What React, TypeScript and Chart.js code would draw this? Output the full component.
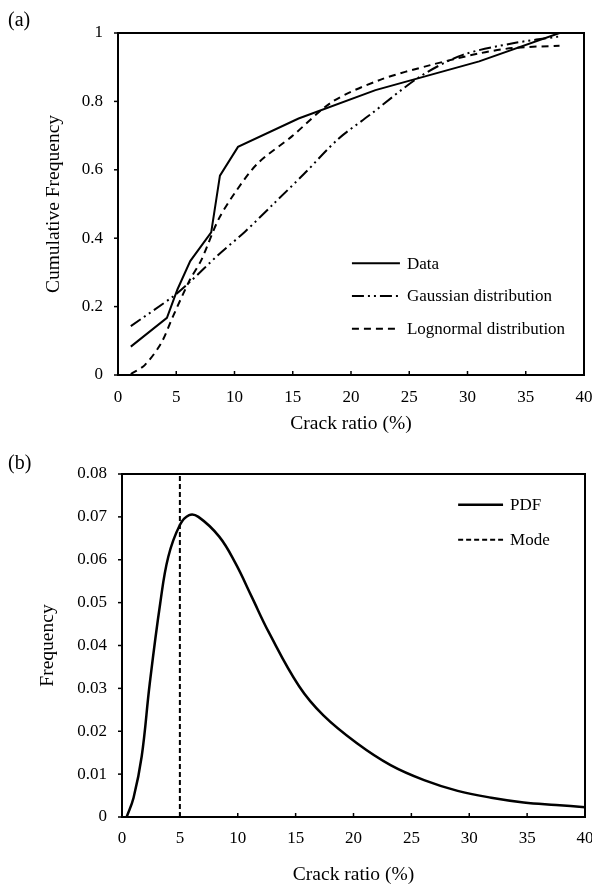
import React, { useEffect, useRef } from "react";
import { Chart, registerables } from "chart.js";
Chart.register(...registerables);

const FONT = "'Liberation Serif', 'Times New Roman', serif";

// ---- Panel (a): cumulative frequency ----
const dataX = [1.1, 4.2, 5.1, 6.2, 8.0, 8.75, 10.3, 15.5, 22.1, 31.0, 37.9];
const dataY = [0.083, 0.167, 0.25, 0.333, 0.417, 0.583, 0.667, 0.75, 0.833, 0.917, 1.0];

const gaussX = [1.1, 4.7, 6.2, 8.6, 10.9, 13.4, 16.0, 18.9, 21.6, 25.9, 29.6, 33.9, 37.9];
const gaussY = [0.143, 0.229, 0.273, 0.351, 0.419, 0.502, 0.589, 0.69, 0.76, 0.872, 0.936, 0.97, 0.99];

const lognX = [1.1, 2.3, 3.7, 4.7, 6.15, 7.15, 8.6, 10.0, 12.0, 14.9, 18.4, 22.5, 26.8, 31.1, 33.9, 37.9];
const lognY = [0.003, 0.029, 0.093, 0.17, 0.277, 0.336, 0.453, 0.531, 0.619, 0.697, 0.799, 0.863, 0.906, 0.941, 0.956, 0.963];

// ---- Panel (b): PDF ----
const pdfX = [0.4, 1.0, 1.7, 2.4, 3.3, 4.0, 5.0, 5.8, 6.6, 8.4, 9.8, 11.2, 12.7, 15.3, 17.4, 20.3, 23.2, 26.1, 29.0, 31.9, 34.7, 37.5, 40];
const pdfY = [0, 0.0045, 0.0141, 0.0312, 0.0498, 0.0607, 0.0681, 0.0704, 0.07, 0.0654, 0.0592, 0.0514, 0.043, 0.0305, 0.0237, 0.0172, 0.0121, 0.0086, 0.0061, 0.0045, 0.0034, 0.0028, 0.0023];

const modeX = [5, 5];
const modeY = [0, 0.08];

const xTicksStep = 5;

const pts = (xs: number[], ys: number[]) => xs.map((x, i) => ({ x, y: ys[i] }));

type LegendItem = { label: string; dash: number[]; width: number };
type LegendCfg = { items: LegendItem[]; x1: number; x2: number; rows: number[] };

function makeFrame(cfg: LegendCfg) {
  return {
    id: "frame",
    afterDatasetsDraw(chart: any) {
      const { ctx, chartArea: a, scales } = chart;
      const w = a.right - a.left;
      const h = a.bottom - a.top;
      ctx.save();
      ctx.strokeStyle = "#000";
      ctx.setLineDash([]);
      ctx.lineWidth = 2;
      ctx.strokeRect(a.left, a.top, w, h);
      ctx.lineWidth = 1.5;
      scales.x.ticks.forEach((t: any) => {
        const px = scales.x.getPixelForValue(t.value);
        ctx.beginPath();
        ctx.moveTo(px, a.bottom);
        ctx.lineTo(px, a.bottom - 4);
        ctx.stroke();
      });
      scales.y.ticks.forEach((t: any) => {
        const py = scales.y.getPixelForValue(t.value);
        ctx.beginPath();
        ctx.moveTo(a.left, py);
        ctx.lineTo(a.left - 4, py);
        ctx.stroke();
      });
      // legend
      const x1 = a.left + cfg.x1 * w;
      const x2 = a.left + cfg.x2 * w;
      ctx.font = `17px ${FONT}`;
      ctx.fillStyle = "#000";
      ctx.textBaseline = "middle";
      ctx.textAlign = "left";
      cfg.items.forEach((it, i) => {
        const y = a.top + cfg.rows[i] * h;
        ctx.setLineDash(it.dash);
        ctx.lineWidth = it.width;
        ctx.beginPath();
        ctx.moveTo(x1, y);
        ctx.lineTo(x2, y);
        ctx.stroke();
        ctx.setLineDash([]);
        ctx.fillText(it.label, x2 + 7, y + 1);
      });
      ctx.restore();
    },
  };
}

const GAUSS_DASH = [12, 4, 2, 4, 2, 4];
const LOGN_DASH = [7, 5];
const MODE_DASH = [5, 3];

function axisCfg(opts: any) {
  return {
    type: "linear",
    min: opts.min,
    max: opts.max,
    afterFit: opts.afterFit,
    ticks: {
      stepSize: opts.step,
      font: { family: FONT, size: 17 },
      color: "#000",
      padding: opts.padding,
      maxRotation: 0,
      autoSkip: false,
      callback: opts.cb,
    },
    grid: { display: false, drawTicks: false },
    border: { display: false },
    title: {
      display: true,
      text: opts.title,
      color: "#000",
      font: { family: FONT, size: 19.5, lineHeight: 1 },
      padding: opts.titlePadding,
    },
  };
}

const fitX = (s: any) => { s.height = 67; s.paddingLeft = 0; s.paddingRight = 0; };
const fitY = (w: number) => (s: any) => { s.width = w; s.paddingTop = 0; s.paddingBottom = 0; };

function ChartA() {
  const ref = useRef<HTMLCanvasElement>(null);
  useEffect(() => {
    const chart = new Chart(ref.current as HTMLCanvasElement, {
      type: "line",
      data: {
        datasets: [
          { label: "Data", data: pts(dataX, dataY), borderColor: "#000", borderWidth: 2, pointRadius: 0, tension: 0 },
          { label: "Gaussian distribution", data: pts(gaussX, gaussY), borderColor: "#000", borderWidth: 2, borderDash: GAUSS_DASH, pointRadius: 0, tension: 0.3 },
          { label: "Lognormal distribution", data: pts(lognX, lognY), borderColor: "#000", borderWidth: 2, borderDash: LOGN_DASH, pointRadius: 0, tension: 0.3 },
        ],
      } as any,
      options: {
        animation: false,
        responsive: false,
        maintainAspectRatio: false,
        layout: { padding: { left: 0, right: 8, top: 33, bottom: 0 } },
        plugins: { legend: { display: false }, tooltip: { enabled: false } },
        scales: {
          x: axisCfg({ min: 0, max: 40, step: xTicksStep, padding: 12, title: "Crack ratio (%)", titlePadding: { top: 0, bottom: 8 }, afterFit: fitX, cb: (v: any) => String(v) }),
          y: axisCfg({ min: 0, max: 1, step: 0.2, padding: 15, title: "Cumulative Frequency", titlePadding: { top: 44, bottom: 0 }, afterFit: fitY(118), cb: (v: any) => String(Math.round(v * 100) / 100) }),
        },
      } as any,
      plugins: [
        makeFrame({
          items: [
            { label: "Data", dash: [], width: 2 },
            { label: "Gaussian distribution", dash: GAUSS_DASH, width: 2 },
            { label: "Lognormal distribution", dash: LOGN_DASH, width: 2 },
          ],
          x1: 0.502,
          x2: 0.605,
          rows: [0.673, 0.769, 0.865],
        }),
      ],
    });
    return () => chart.destroy();
  }, []);
  return <canvas ref={ref} width={592} height={442} style={{ display: "block" }} />;
}

function ChartB() {
  const ref = useRef<HTMLCanvasElement>(null);
  useEffect(() => {
    const chart = new Chart(ref.current as HTMLCanvasElement, {
      type: "line",
      data: {
        datasets: [
          { label: "PDF", data: pts(pdfX, pdfY), borderColor: "#000", borderWidth: 2.5, pointRadius: 0, tension: 0.4 },
          { label: "Mode", data: pts(modeX, modeY), borderColor: "#000", borderWidth: 2, borderDash: MODE_DASH, pointRadius: 0 },
        ],
      } as any,
      options: {
        animation: false,
        responsive: false,
        maintainAspectRatio: false,
        layout: { padding: { left: 0, right: 7, top: 32, bottom: 0 } },
        plugins: { legend: { display: false }, tooltip: { enabled: false } },
        scales: {
          x: axisCfg({ min: 0, max: 40, step: xTicksStep, padding: 11, title: "Crack ratio (%)", titlePadding: { top: 0, bottom: -1 }, afterFit: fitX, cb: (v: any) => String(v) }),
          y: axisCfg({ min: 0, max: 0.08, step: 0.01, padding: 15, title: "Frequency", titlePadding: { top: 38, bottom: 0 }, afterFit: fitY(122), cb: (v: any) => String(Math.round(v * 1000) / 1000) }),
        },
      } as any,
      plugins: [
        makeFrame({
          items: [
            { label: "PDF", dash: [], width: 2.5 },
            { label: "Mode", dash: MODE_DASH, width: 2 },
          ],
          x1: 0.726,
          x2: 0.823,
          rows: [0.09, 0.192],
        }),
      ],
    });
    return () => chart.destroy();
  }, []);
  return <canvas ref={ref} width={592} height={442} style={{ display: "block" }} />;
}

const labelStyle: React.CSSProperties = {
  position: "absolute",
  left: 8,
  fontFamily: FONT,
  fontSize: 20,
  lineHeight: "20px",
  color: "#000",
};

export default function App() {
  return (
    <div style={{ position: "absolute", left: 0, top: 0, width: 592, height: 884, background: "#fff" }}>
      <div style={{ position: "absolute", left: 0, top: 0 }}>
        <ChartA />
      </div>
      <div style={{ position: "absolute", left: 0, top: 442 }}>
        <ChartB />
      </div>
      <div style={{ ...labelStyle, top: 9 }}>(a)</div>
      <div style={{ ...labelStyle, top: 452 }}>(b)</div>
    </div>
  );
}
